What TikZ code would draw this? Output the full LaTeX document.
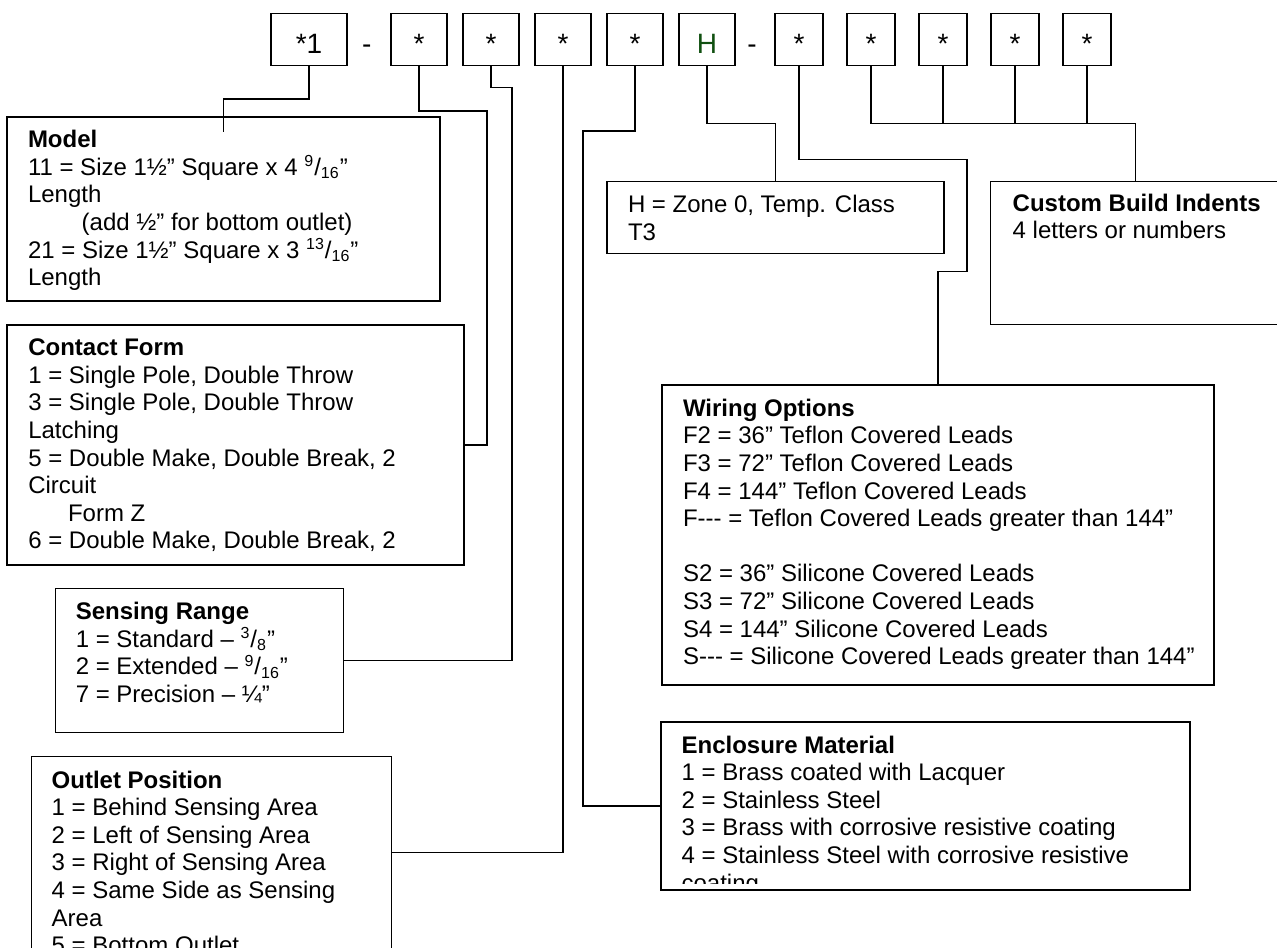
\documentclass[tikz,border=0pt]{standalone}
\usepackage{fontspec}
\setmainfont{Liberation Sans}
\usepackage{xcolor}
\usetikzlibrary{positioning,fit}
\definecolor{zonegreen}{RGB}{16,80,16}

\begin{document}
\begin{tikzpicture}[x=0.5pt,y=-0.5pt,line width=0.7pt,
    every node/.style={on grid,node distance=36pt,inner sep=0pt,outer sep=0pt},
    codebox/.style={draw,minimum width=28pt,minimum height=26.2pt,
      font=\fontsize{14}{16}\selectfont,text height=15.5pt,text depth=1.7pt},
    codedash/.style={font=\fontsize{14}{16}\selectfont,text height=15.5pt,text depth=1.7pt},
    infobox/.style={draw},
    infotext/.style={anchor=north west,yshift=9.66pt,align=left,
      font=\fontsize{12}{13.8}\selectfont,execute at begin node=\strut}]
  \useasboundingbox (0,0) rectangle (1277,947);
  \clip (0,0) rectangle (1277,947);
  % the code boxes
  \node[codebox,minimum width=38pt] (Model) at (309,39.5) {*1};
  \node[codedash] (DashA) at (366.8,39.5) {-};
  \node[codebox] (Contact) at (419,39.5) {*};
  \node[codebox,right of=Contact] (Range) {*};
  \node[codebox,right of=Range] (Outlet) {*};
  \node[codebox,right of=Outlet] (Encl) {*};
  \node[codebox,right of=Encl,text=zonegreen] (Zone) {H};
  \node[codedash] (DashB) at (752,39.5) {-};
  \node[codebox,minimum width=24pt] (Wiring) at (799,39.5) {*};
  \node[codebox,minimum width=24pt,right of=Wiring] (CustA) {*};
  \node[codebox,minimum width=24pt,right of=CustA] (CustB) {*};
  \node[codebox,minimum width=24pt,right of=CustB] (CustC) {*};
  \node[codebox,minimum width=24pt,right of=CustC] (CustD) {*};
  % the description boxes
  \node[infobox,fit={(7,117) (440,301)}] (ModelBox) {};
  \node[infobox,fit={(7,325) (464,565)}] (ContactBox) {};
  \node[infobox,fit={(55.5,588.7) (343.7,732.7)}] (RangeBox) {};
  \node[infobox,fit={(31.5,756.7) (391.5,948.7)}] (OutletBox) {};
  \node[infobox,fit={(607,181.7) (944,253.3)}] (ZoneBox) {};
  \node[infobox,fit={(662,385) (1214,685)}] (WiringBox) {};
  \node[infobox,fit={(661,722) (1190,890)}] (EnclBox) {};
  \node[infobox,fit={(990.7,181.7) (1280,324.3)}] (CustBox) {};
  \begin{scope}
    \clip (0,117) rectangle (1277,291.5);
    \node[infotext] (ModelText) at (28,149.7) {\textbf{Model}\\
      11 = Size 1½” Square x 4 \textsuperscript{9}/\textsubscript{16}”\\
      Length\\
      \hspace*{26.85pt}(add ½” for bottom outlet)\\
      21 = Size 1½” Square x 3 \textsuperscript{13}/\textsubscript{16}”\\
      Length};
  \end{scope}
  \node[infotext] (ContactText) at (28.3,358.3) {\textbf{Contact Form}\\
    1 = Single Pole, Double Throw\\
    3 = Single Pole, Double Throw\\
    Latching\\
    5 = Double Make, Double Break, 2\\
    Circuit\\
    \hspace*{19.85pt}Form Z\\
    6 = Double Make, Double Break, 2};
  \node[infotext] (RangeText) at (75.8,621.7) {\textbf{Sensing Range}\\
    1 = Standard – \textsuperscript{3}/\textsubscript{8}”\\
    2 = Extended – \textsuperscript{9}/\textsubscript{16}”\\
    7 = Precision – ¼”};
  \node[infotext] (OutletText) at (51.7,790) {\textbf{Outlet Position}\\
    1 = Behind Sensing Area\\
    2 = Left of Sensing Area\\
    3 = Right of Sensing Area\\
    4 = Same Side as Sensing\\
    Area\\
    5 = Bottom Outlet};
  \node[infotext] (ZoneText) at (628,214.7) {H = Zone 0, Temp. Class\\ T3};
  \node[infotext] (WiringText) at (683,418.3) {\textbf{Wiring Options}\\
    F2 = 36” Teflon Covered Leads\\
    F3 = 72” Teflon Covered Leads\\
    F4 = 144” Teflon Covered Leads\\
    F-{}-{}- = Teflon Covered Leads greater than 144”\\[13.8pt]
    S2 = 36” Silicone Covered Leads\\
    S3 = 72” Silicone Covered Leads\\
    S4 = 144” Silicone Covered Leads\\
    S-{}-{}- = Silicone Covered Leads greater than 144”};
  \begin{scope}
    \clip (0,722) rectangle (1277,883.5);
    \node[infotext] (EnclText) at (681.6,755) {\textbf{Enclosure Material}\\
      1 = Brass coated with Lacquer\\
      2 = Stainless Steel\\
      3 = Brass with corrosive resistive coating\\
      4 = Stainless Steel with corrosive resistive\\
      coating};
  \end{scope}
  \node[infotext] (CustText) at (1012.7,213.3) {\textbf{Custom Build Indents}\\
    4 letters or numbers};
  % connectors
  \coordinate (ModelEnd) at (223.5,132);
  \draw (Model.south) |- (ModelEnd |- 0,99) -- (ModelEnd);
  \draw (Contact.south) |- (487,111) |- (ContactBox.east);
  \draw (Range.south) |- (512,87.7) |- (RangeBox.east);
  \draw (Outlet.south) |- (OutletBox.east);
  \draw (Encl.south) |- (583,131) |- (EnclBox.west);
  \draw (Zone.south) -- ++(0,57.6) -| (ZoneBox.north);
  \draw (Wiring.south) -- ++(0,93.6) -| (967,271.7) -| (WiringBox.north);
  \foreach \c in {CustA,CustB,CustC,CustD}
    \draw (\c.south) -- ++(0,57.6) -| (CustBox.north);
\end{tikzpicture}
\end{document}
